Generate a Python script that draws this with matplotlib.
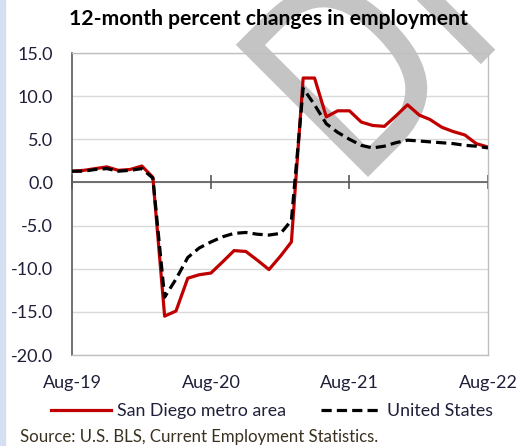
import matplotlib
matplotlib.use("Agg")
import matplotlib.pyplot as plt
import pandas as pd
from matplotlib.textpath import TextPath
from matplotlib.font_manager import FontProperties
from matplotlib.patches import PathPatch
from matplotlib.transforms import Affine2D, IdentityTransform

plt.rcParams['font.family'] = ['Lato', 'DejaVu Sans']

# monthly, Aug-2019 .. Aug-2022
months = pd.date_range('2019-08-01', periods=37, freq='MS')

san_diego = [1.3, 1.4, 1.6, 1.8, 1.4, 1.5, 1.9, 0.6,
             -15.5, -14.9, -11.1, -10.7, -10.5, -9.2, -7.9, -8.0, -9.0, -10.1, -8.5, -6.9,
             12.1, 12.1, 7.6, 8.3, 8.3, 7.0, 6.6, 6.5, 7.7, 9.0, 7.8, 7.3, 6.4, 5.9, 5.5, 4.5, 4.1]

united_states = [1.3, 1.3, 1.5, 1.6, 1.3, 1.4, 1.6, 0.5,
                 -13.3, -11.2, -8.7, -7.6, -6.9, -6.3, -5.9, -5.8, -6.0, -6.1, -5.9, -4.4,
                 10.9, 9.0, 6.8, 5.8, 5.0, 4.3, 4.0, 4.2, 4.6, 4.9, 4.8, 4.7, 4.6, 4.5, 4.3, 4.2, 4.0]

y_ticks = [15, 10, 5, 0, -5, -10, -15, -20]
y_labels = ['15.0', '10.0', '5.0', '0.0', '-5.0', '-10.0', '-15.0', '-20.0']
x_ticks = pd.to_datetime(['2019-08-01', '2020-08-01', '2021-08-01', '2022-08-01'])
x_labels = ['Aug-19', 'Aug-20', 'Aug-21', 'Aug-22']

text_col = '#1f1f3a'

fig = plt.figure(figsize=(5.2, 4.46), dpi=100)
ax = fig.add_axes([72/520, 1-355/446, 416/520, 302/446])

# light blue strip on the left edge
fig.patches.append(plt.Rectangle((0, 0), 5/520, 1, transform=fig.transFigure,
                                 color='#d5dff2', zorder=0))

ax.set_axisbelow(True)
ax.grid(axis='y', color='#d9d9d9', lw=1)
ax.axhline(0, color='#595959', lw=1.2, zorder=1)
ax.plot(x_ticks, [0]*len(x_ticks), ls='none', marker='|', ms=9.5,
        mew=1.2, color='#595959', zorder=1, clip_on=False)

# DRAFT watermark, narrow letters rotated 45 deg, mostly off the picture
prop = FontProperties(family='DejaVu Sans')
d_box = TextPath((0, 0), 'D', size=100, prop=prop).get_extents()
sx = 127 / d_box.width
sy = 187 / d_box.height
wm = TextPath((0, 0), 'DRAFT', size=100, prop=prop)
tr = (Affine2D().translate(-d_box.x0, 0).scale(sx, sy).rotate_deg(45)
      .translate(368, 446 - 177))
wm_patch = PathPatch(tr.transform_path(wm), transform=IdentityTransform(),
                     facecolor='#c4c4c4', edgecolor='none', zorder=1.5, clip_on=False)
ax.add_artist(wm_patch)

ax.plot(months, san_diego, color='#c00000', lw=2.3, label='San Diego metro area', zorder=2)
ax.plot(months, united_states, color='black', lw=2.3, ls=(0, (3.2, 1.6)),
        label='United States', zorder=3)

ax.set_xlim(months[0], months[-1])
ax.set_ylim(-20, 15)
ax.set_yticks(y_ticks)
ax.set_yticklabels(y_labels)
ax.set_xticks(x_ticks)
ax.set_xticklabels(x_labels)
ax.tick_params(axis='y', length=0, pad=13.5, labelsize=13, labelcolor=text_col)
ax.tick_params(axis='x', length=0, pad=14.5, labelsize=13, labelcolor=text_col)

for s in ['top', 'right', 'bottom']:
    ax.spines[s].set_color('#bfbfbf')
    ax.spines[s].set_linewidth(1)
ax.spines['left'].set_color('#595959')
ax.spines['left'].set_linewidth(1.2)

fig.text(268/520, 1-19/446, '12-month percent changes in employment',
         ha='center', va='center', fontsize=15.2, fontweight='bold', color='black')

fig.legend(loc='center', bbox_to_anchor=(272/520, 1-411/446), ncol=2, frameon=False,
           fontsize=12.8, handlelength=3.4, handletextpad=0.33, columnspacing=1.95,
           labelcolor=text_col)

fig.text(20/520, 1-437/446, 'Source: U.S. BLS, Current Employment Statistics.',
         ha='left', va='center', fontsize=12.1, color='#3a3020')

fig.savefig('out.png', dpi=100)
